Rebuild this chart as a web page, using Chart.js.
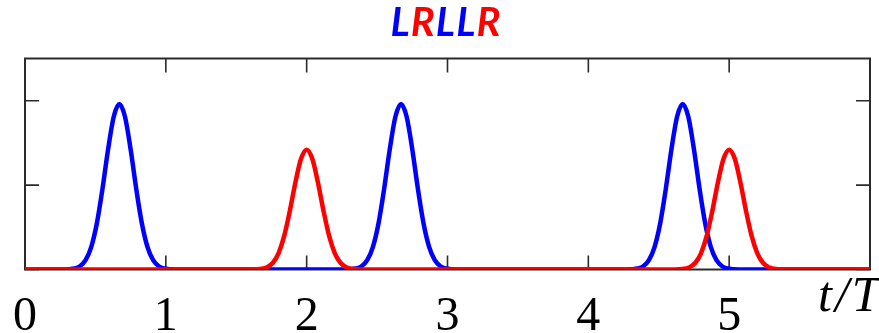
<!DOCTYPE html>
<html>
<head>
<meta charset="utf-8">
<script src="https://cdn.jsdelivr.net/npm/chart.js@4.4.1/dist/chart.umd.min.js"></script>
<style>
  html, body { margin: 0; padding: 0; background: #fff; overflow: hidden; }
  canvas { display: block; }
</style>
</head>
<body>
<canvas id="c" width="879" height="333"></canvas>
<script>
// Pulse traces: time (in units of T) and amplitude
const blueT = [0,
  0.27, 0.31, 0.35, 0.39, 0.43, 0.47, 0.51, 0.55, 0.59, 0.63, 0.67, 0.71, 0.75, 0.79, 0.83, 0.87, 0.91, 0.95, 0.99, 1.03, 1.07,
  2.27, 2.31, 2.35, 2.39, 2.43, 2.47, 2.51, 2.55, 2.59, 2.63, 2.67, 2.71, 2.75, 2.79, 2.83, 2.87, 2.91, 2.95, 2.99, 3.03, 3.07,
  4.27, 4.31, 4.35, 4.39, 4.43, 4.47, 4.51, 4.55, 4.59, 4.63, 4.67, 4.71, 4.75, 4.79, 4.83, 4.87, 4.91, 4.95, 4.99, 5.03, 5.07,
  6];
const blueY = [0,
  0.001, 0.003, 0.012, 0.039, 0.110, 0.265, 0.545, 0.954, 1.423, 1.809, 1.960, 1.809, 1.423, 0.954, 0.545, 0.265, 0.110, 0.039, 0.012, 0.003, 0.001,
  0.001, 0.003, 0.012, 0.039, 0.110, 0.265, 0.545, 0.954, 1.423, 1.809, 1.960, 1.809, 1.423, 0.954, 0.545, 0.265, 0.110, 0.039, 0.012, 0.003, 0.001,
  0.001, 0.003, 0.012, 0.039, 0.110, 0.265, 0.545, 0.954, 1.423, 1.809, 1.960, 1.809, 1.423, 0.954, 0.545, 0.265, 0.110, 0.039, 0.012, 0.003, 0.001,
  0];

const redT = [0,
  1.60, 1.64, 1.68, 1.72, 1.76, 1.80, 1.84, 1.88, 1.92, 1.96, 2.00, 2.04, 2.08, 2.12, 2.16, 2.20, 2.24, 2.28, 2.32, 2.36, 2.40,
  4.60, 4.64, 4.68, 4.72, 4.76, 4.80, 4.84, 4.88, 4.92, 4.96, 5.00, 5.04, 5.08, 5.12, 5.16, 5.20, 5.24, 5.28, 5.32, 5.36, 5.40,
  6];
const redY = [0,
  0.000, 0.002, 0.008, 0.028, 0.080, 0.192, 0.395, 0.691, 1.031, 1.311, 1.420, 1.311, 1.031, 0.691, 0.395, 0.192, 0.080, 0.028, 0.008, 0.002, 0.000,
  0.000, 0.002, 0.008, 0.028, 0.080, 0.192, 0.395, 0.691, 1.031, 1.311, 1.420, 1.311, 1.031, 0.691, 0.395, 0.192, 0.080, 0.028, 0.008, 0.002, 0.000,
  0];

// Axes
const xTicks = [0, 1, 2, 3, 4, 5];
const xTickLabels = ['0', '1', '2', '3', '4', '5'];
const yTicks = [0, 1, 2];
const xAxisLabel = 't/T';

// Heading: pulse sequence, each letter in its trace colour
const titleLetters = ['L', 'R', 'L', 'L', 'R'];

const BLUE = '#0000ff';
const RED = '#ff0000';
const letterColor = { L: BLUE, R: RED };

const toPoints = (ts, ys) => ts.map((t, i) => ({ x: t, y: ys[i] }));

const TICK_LEN = 14;

const framePlugin = {
  id: 'frameAndText',
  beforeDatasetsDraw(chart) {
    const { ctx, chartArea: a, scales: { x, y } } = chart;
    ctx.save();
    ctx.strokeStyle = '#2b2b2b';
    ctx.lineWidth = 2;
    ctx.strokeRect(a.left, a.top, a.right - a.left, a.bottom - a.top);

    ctx.lineWidth = 1.6;
    ctx.beginPath();
    xTicks.forEach(v => {
      const px = x.getPixelForValue(v);
      ctx.moveTo(px, a.top); ctx.lineTo(px, a.top + TICK_LEN);
      ctx.moveTo(px, a.bottom); ctx.lineTo(px, a.bottom - TICK_LEN);
    });
    yTicks.forEach(v => {
      const py = y.getPixelForValue(v);
      ctx.moveTo(a.left, py); ctx.lineTo(a.left + TICK_LEN, py);
      ctx.moveTo(a.right, py); ctx.lineTo(a.right - TICK_LEN, py);
    });
    ctx.stroke();
    ctx.restore();
  },
  afterDraw(chart) {
    const { ctx, chartArea: a, scales: { x } } = chart;
    ctx.save();
    ctx.fillStyle = '#000';
    ctx.textBaseline = 'alphabetic';

    // x tick labels
    ctx.font = '48px "Liberation Serif"';
    ctx.textAlign = 'center';
    xTicks.forEach((v, i) => {
      ctx.fillText(xTickLabels[i], x.getPixelForValue(v), 329.5);
    });

    // axis label
    ctx.font = 'italic 50px "Liberation Serif"';
    ctx.textAlign = 'left';
    if ('letterSpacing' in ctx) ctx.letterSpacing = '3px';
    ctx.fillText(xAxisLabel, 818, 311);
    if ('letterSpacing' in ctx) ctx.letterSpacing = '0px';

    // coloured heading
    ctx.font = 'italic bold 40px Lato';
    const gap = 1;
    const widths = titleLetters.map(ch => ctx.measureText(ch).width);
    const total = widths.reduce((s, w) => s + w, 0) + gap * (titleLetters.length - 1);
    let cx = (a.left + a.right) / 2 - total / 2 - 2;
    titleLetters.forEach((ch, i) => {
      ctx.fillStyle = letterColor[ch];
      ctx.fillText(ch, cx, 36);
      cx += widths[i] + gap;
    });
    ctx.restore();
  }
};

function draw() {
  new Chart(document.getElementById('c'), {
    type: 'line',
    data: {
      datasets: [
        {
          label: 'R',
          data: toPoints(redT, redY),
          borderColor: RED,
          borderWidth: 4.5,
          pointRadius: 0,
          fill: false,
          cubicInterpolationMode: 'monotone',
          order: 0
        },
        {
          label: 'L',
          data: toPoints(blueT, blueY),
          borderColor: BLUE,
          borderWidth: 4.5,
          pointRadius: 0,
          fill: false,
          cubicInterpolationMode: 'monotone',
          order: 1
        }
      ]
    },
    options: {
      responsive: false,
      animation: false,
      devicePixelRatio: 1,
      layout: { padding: { left: 25, right: 9, top: 58.5, bottom: 63.5 } },
      plugins: { legend: { display: false }, tooltip: { enabled: false }, title: { display: false } },
      scales: {
        x: { type: 'linear', min: 0, max: 6, display: false },
        y: { type: 'linear', min: 0, max: 2.5, display: false }
      }
    },
    plugins: [framePlugin]
  });
}

const fontLoads = [
  '48px "Liberation Serif"',
  'italic 50px "Liberation Serif"',
  'italic bold 40px Lato'
].map(f => document.fonts.load(f).catch(() => null));
Promise.all(fontLoads).then(draw, draw);
</script>
</body>
</html>
